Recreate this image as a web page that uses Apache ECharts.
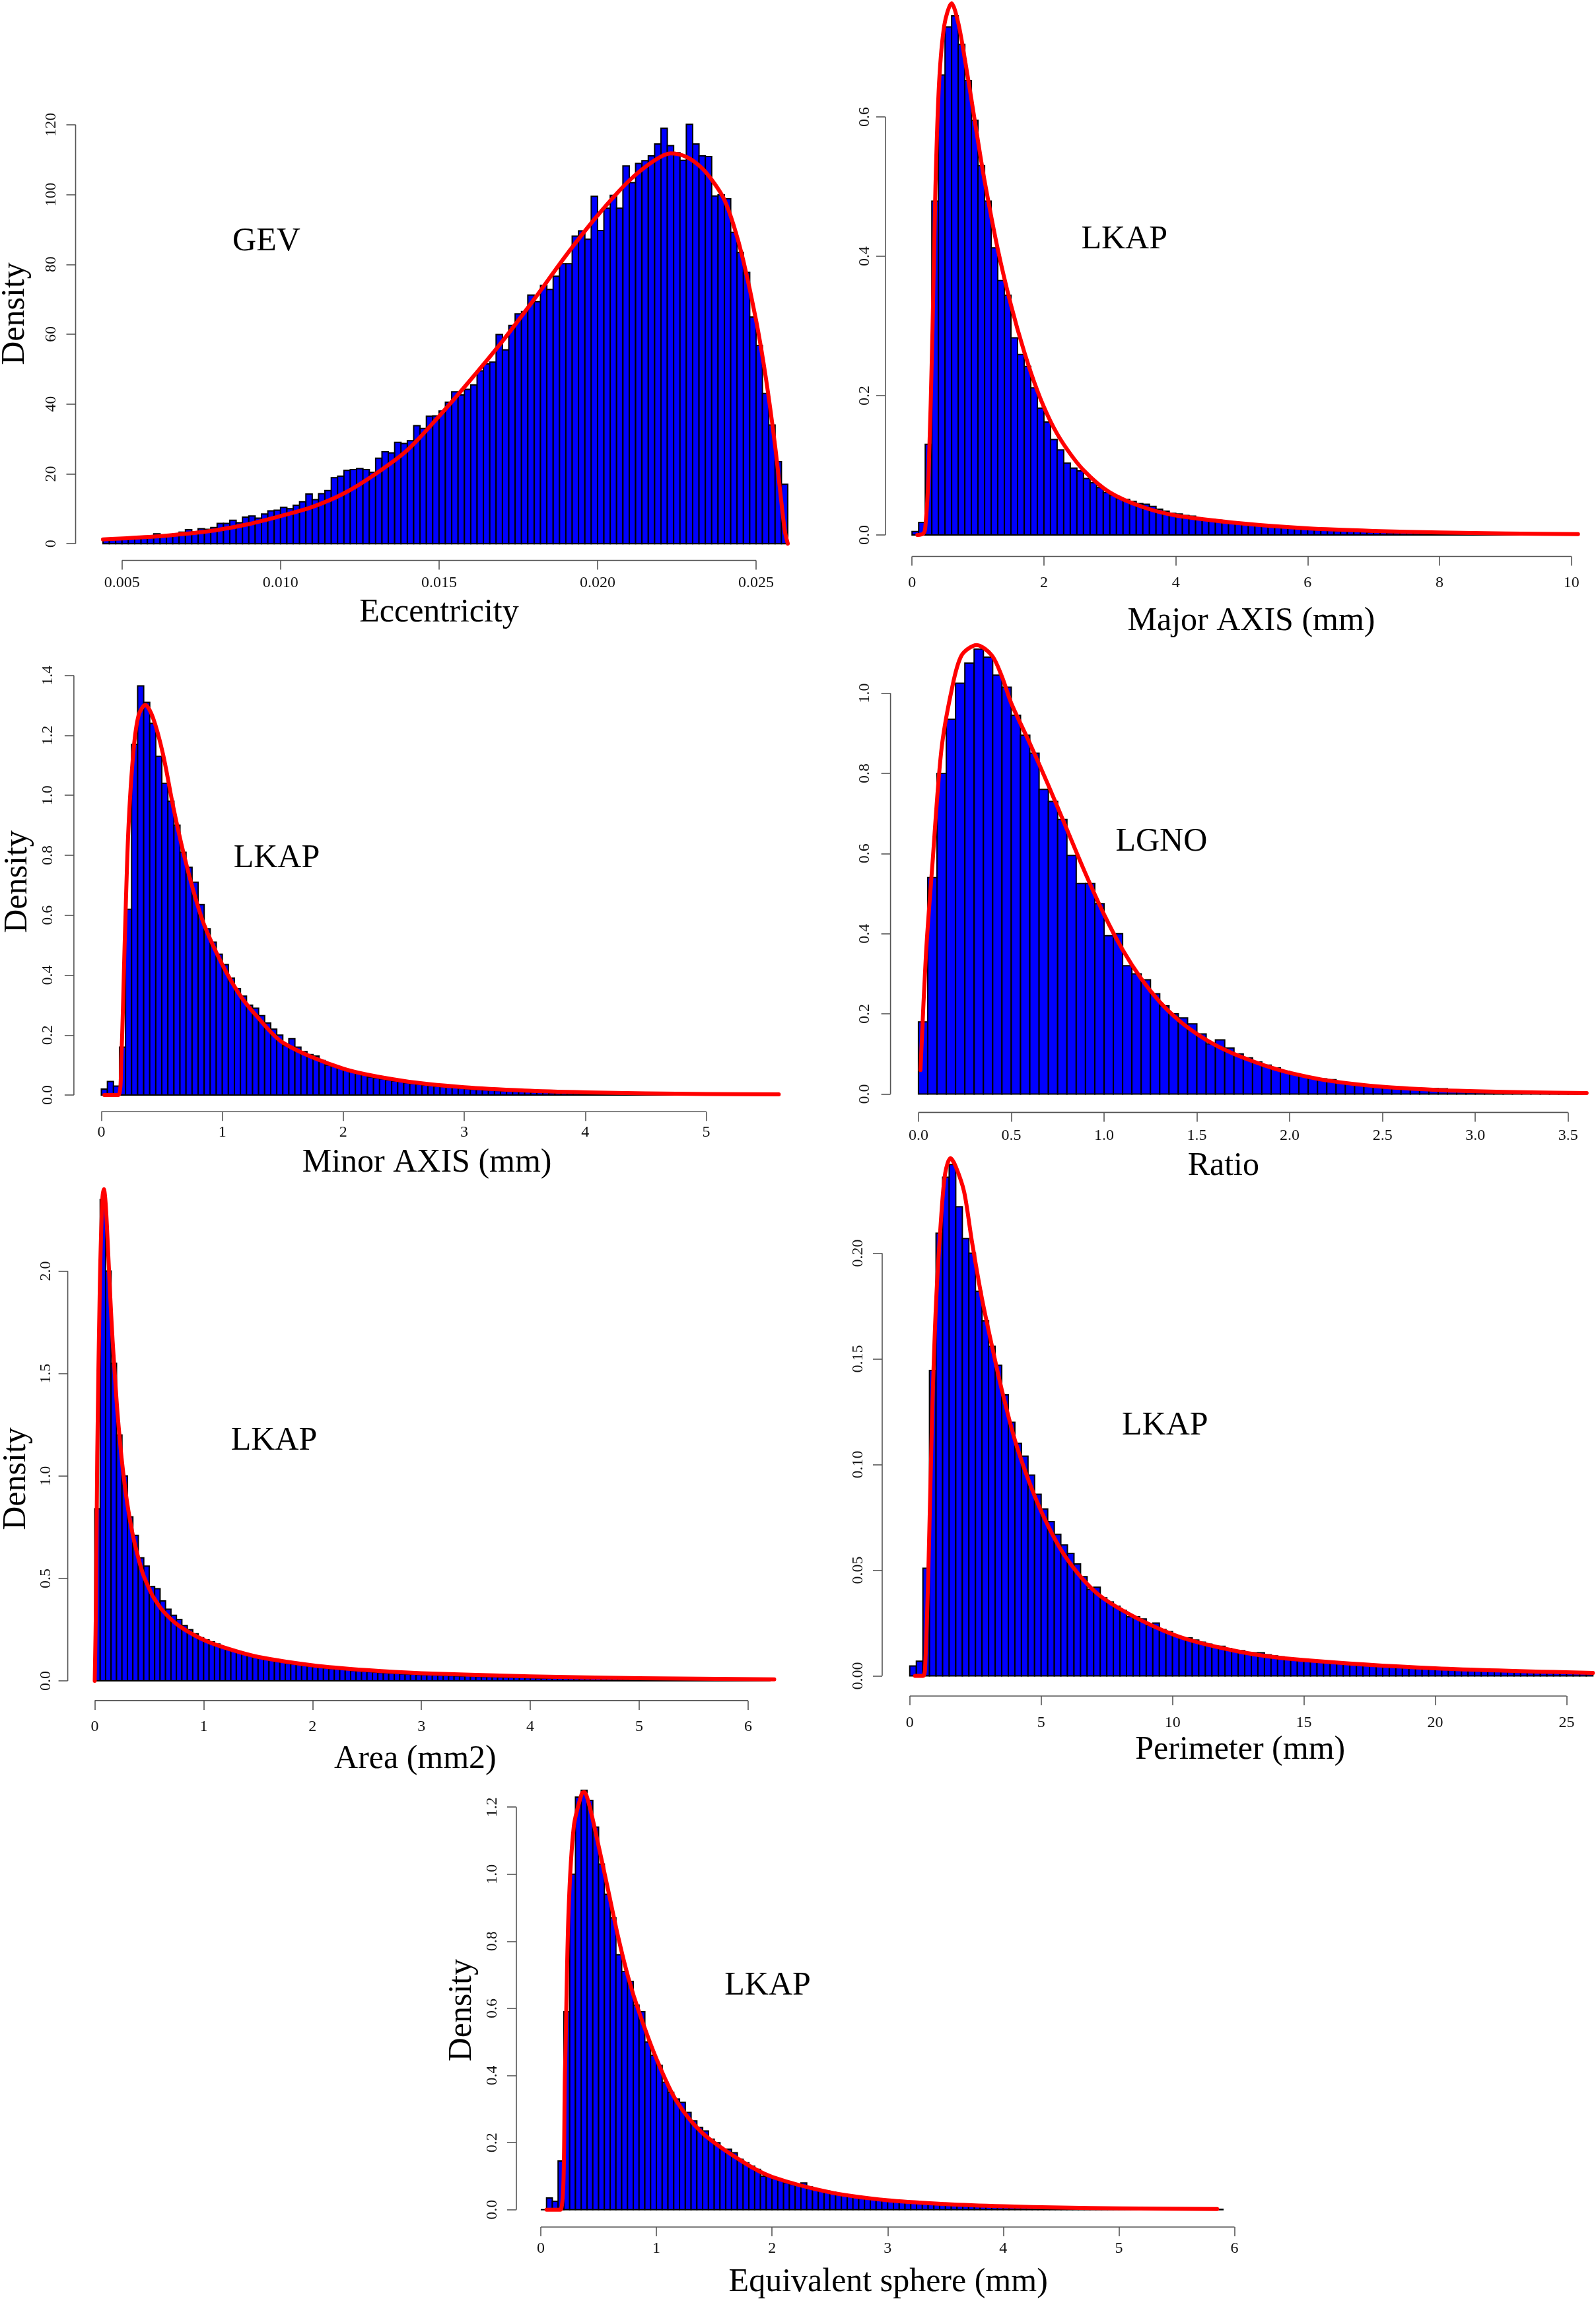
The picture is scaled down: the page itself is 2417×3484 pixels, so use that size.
<!DOCTYPE html>
<html>
<head>
<meta charset="utf-8">
<script src="https://cdn.jsdelivr.net/npm/echarts@6/dist/echarts.min.js"></script>
<style>
html,body{margin:0;padding:0;background:#ffffff;}
#chart{width:2417px;height:3484px;}
</style>
</head>
<body>
<div id="chart"></div>
<script>
// ---------------- DATA ----------------
// Eccentricity (GEV)
const eccBinStart = 0.0044, eccBinWidth = 0.0002;
const eccDensity = [1.4,1.2,1.3,1.5,1.6,1.8,1.9,2.0,2.8,2.4,2.6,2.7,3.3,4.0,3.4,4.3,4.1,4.6,5.8,5.8,6.7,6.0,7.6,7.9,7.3,8.5,9.4,9.6,10.4,10.0,11.0,12.0,14.2,12.6,14.3,15.2,18.9,19.3,21.0,21.2,21.5,21.2,20.4,24.5,26.3,26.0,29.0,28.7,29.5,33.8,33.0,36.5,36.6,38.0,40.5,43.5,42.6,44.2,45.5,49.5,51.5,52.0,59.9,55.5,62.5,65.8,66.5,
  71.2,69.3,74.0,72.8,76.6,80.2,80.2,88.1,89.6,87.2,99.5,89.7,96.1,99.8,96.1,108.2,103.4,108.9,109.7,111.1,114.5,119.0,114.0,112.0,109.8,120.1,114.5,111.1,110.9,99.6,99.9,98.8,89.2,83.4,77.7,64.9,56.8,43.0,34.0,23.5,17.0];
const eccCurve = [[0.0044,1.2],[0.006,2.0],[0.007,2.8],[0.008,3.9],[0.009,5.6],[0.010,7.9],[0.011,10.5],[0.012,14.4],[0.013,20.0],[0.014,26.8],[0.015,36.5],[0.016,47.0],[0.017,58.0],[0.018,70.0],[0.019,82.5],[0.020,94.0],[0.021,104.0],[0.0218,109.8],[0.0223,111.8],[0.0228,110.8],[0.0233,107.5],[0.0237,103.0],[0.0240,98.5],[0.0243,91.0],[0.0246,81.0],[0.0250,64.0],[0.0253,48.0],[0.0256,28.0],[0.0259,4.0],[0.0260,0]];
const eccXTicks = [0.005,0.010,0.015,0.020,0.025];
const eccXLabels = ['0.005','0.010','0.015','0.020','0.025'];
const eccYTicks = [0,20,40,60,80,100,120];
const eccYLabels = ['0','20','40','60','80','100','120'];

// Major AXIS (LKAP)
const majBinStart = 0, majBinWidth = 0.1;
const majDensity = [0.005,0.018,0.13,0.479,0.66,0.729,0.745,0.704,0.652,0.595,0.53,0.479,0.412,0.365,0.344,0.283,0.259,0.242,0.211,0.182,
  0.162,0.137,0.122,0.103,0.096,0.092,0.081,0.075,0.068,0.061,0.057,0.052,0.051,0.048,0.045,0.044,0.041,0.037,0.034,0.031,
  0.030,0.028,0.027,0.024,0.023,0.022,0.021,0.019,0.018,0.017,0.016,0.015,0.014,0.013,0.012,0.012,0.011,0.010,0.010,0.009,
  0.008,0.009,0.007,0.007,0.006,0.006,0.007,0.005,0.005,0.004,0.004,0.004,0.003,0.003,0.003,0.003,0.0025,0.0025,0.002,0.002,
  0.002,0.002,0.0018,0.0022,0.0015,0.0015,0.0013,0.0012,0.0012,0.001,0.001,0.001,0.0009,0.0008,0.0008,0.0007,0.0006,0.0006,0.0005,0.0005,0.0004];
const majCurve = [[0.08,0],[0.17,0.002],[0.2,0.01],[0.25,0.086],[0.31,0.294],[0.355,0.5],[0.41,0.649],[0.49,0.732],[0.6,0.763],[0.7,0.735],[0.8,0.683],[0.9,0.625],[1.0,0.565],[1.1,0.508],[1.3,0.41],[1.5,0.33],[1.7,0.263],[1.9,0.207],[2.1,0.163],[2.3,0.13],[2.6,0.093],[3.0,0.061],[3.5,0.04],[4.0,0.028],[5.0,0.0166],[6.0,0.0095],[7.0,0.0058],[8.0,0.0036],[9.0,0.0022],[10.1,0.0012]];
const majXTicks = [0,2,4,6,8,10];
const majXLabels = ['0','2','4','6','8','10'];
const majYTicks = [0,0.2,0.4,0.6];
const majYLabels = ['0.0','0.2','0.4','0.6'];

// Minor AXIS (LKAP)
const minBinStart = 0, minBinWidth = 0.05;
const minDensity = [0.02,0.045,0.03,0.16,0.62,1.17,1.365,1.31,1.24,1.13,1.04,0.98,0.90,0.81,0.76,0.71,0.635,0.555,0.51,0.47,
  0.435,0.39,0.355,0.33,0.30,0.29,0.265,0.24,0.22,0.20,0.165,0.188,0.16,0.145,0.135,0.13,0.115,0.10,0.095,0.09,
  0.085,0.078,0.072,0.068,0.06,0.057,0.054,0.05,0.047,0.045,0.041,0.038,0.036,0.033,0.031,0.029,0.028,0.028,0.024,0.022,
  0.021,0.019,0.018,0.017,0.016,0.015,0.014,0.013,0.012,0.011,0.012,0.010,0.009,0.009,0.008,0.007,0.007,0.006,0.006,0.006,
  0.005,0.005,0.005,0.004,0.004,0.004,0.003,0.003,0.003,0.003,0.003,0.002,0.002,0.002,0.002,0.002,0.002,0.002,0.001,0.001,
  0.002,0.001,0.001,0.001,0.001,0.001,0.001,0.001,0.001,0.001,0.001,0.001];
const minCurve = [[0.025,0],[0.14,0],[0.165,0.12],[0.195,0.535],[0.224,0.89],[0.266,1.15],[0.308,1.267],[0.363,1.302],[0.426,1.26],[0.51,1.137],[0.595,0.96],[0.68,0.806],[0.764,0.677],[0.848,0.57],[1.0,0.435],[1.143,0.335],[1.27,0.27],[1.5,0.175],[2.0,0.088],[2.5,0.047],[3.0,0.026],[3.5,0.015],[4.0,0.009],[4.5,0.0055],[5.0,0.0035],[5.6,0.002]];
const minXTicks = [0,1,2,3,4,5];
const minXLabels = ['0','1','2','3','4','5'];
const minYTicks = [0,0.2,0.4,0.6,0.8,1.0,1.2,1.4];
const minYLabels = ['0.0','0.2','0.4','0.6','0.8','1.0','1.2','1.4'];

// Ratio (LGNO)
const ratBinStart = 0, ratBinWidth = 0.05;
const ratDensity = [0.18,0.54,0.80,0.935,1.025,1.075,1.11,1.09,1.045,1.015,0.945,0.895,0.85,0.76,0.73,0.685,0.595,0.525,0.525,0.475,
  0.395,0.40,0.32,0.30,0.285,0.25,0.22,0.20,0.19,0.175,0.15,0.125,0.135,0.115,0.10,0.09,0.08,0.072,0.065,0.057,
  0.05,0.045,0.04,0.038,0.036,0.030,0.027,0.024,0.021,0.019,0.018,0.016,0.013,0.011,0.012,0.014,0.013,0.009,0.007,0.006,
  0.005,0.005,0.004,0.004,0.003,0.003,0.004,0.003,0.002,0.002,0.002,0.001];
const ratCurve = [[0.011,0.06],[0.041,0.353],[0.074,0.565],[0.123,0.856],[0.178,1.006],[0.232,1.094],[0.314,1.12],[0.396,1.094],[0.451,1.04],[0.5,0.975],[0.6,0.875],[0.7,0.77],[0.8,0.66],[0.9,0.55],[1.0,0.448],[1.1,0.36],[1.2,0.288],[1.3,0.23],[1.4,0.185],[1.5,0.15],[1.6,0.122],[1.7,0.1],[1.8,0.082],[1.9,0.066],[2.0,0.053],[2.2,0.034],[2.5,0.018],[2.8,0.01],[3.0,0.007],[3.3,0.004],[3.6,0.0025]];
const ratXTicks = [0,0.5,1.0,1.5,2.0,2.5,3.0,3.5];
const ratXLabels = ['0.0','0.5','1.0','1.5','2.0','2.5','3.0','3.5'];
const ratYTicks = [0,0.2,0.4,0.6,0.8,1.0];
const ratYLabels = ['0.0','0.2','0.4','0.6','0.8','1.0'];

// Area (LKAP)
const areaBinStart = 0, areaBinWidth = 0.05;
const areaDensity = [0.84,2.35,2.0,1.55,1.2,1.0,0.8,0.71,0.6,0.56,0.46,0.45,0.39,0.35,0.32,0.30,0.27,0.25,0.23,0.21,
  0.20,0.19,0.18,0.165,0.155,0.145,0.14,0.13,0.125,0.115,0.11,0.105,0.10,0.095,0.09,0.085,0.082,0.08,0.076,0.072,
  0.068,0.066,0.063,0.06,0.062,0.057,0.058,0.05,0.048,0.046,0.044,0.042,0.04,0.039,0.037,0.036,0.034,0.033,0.032,0.031,
  0.030,0.029,0.028,0.027,0.026,0.025,0.024,0.023,0.028,0.022,0.021,0.02,0.02,0.019,0.018,0.018,0.017,0.016,0.016,0.015,
  0.015,0.014,0.014,0.013,0.013,0.012,0.012,0.012,0.011,0.011,0.010,0.010,0.010,0.009,0.009,0.009,0.008,0.008,0.008,0.008,
  0.007,0.007,0.007,0.007,0.006,0.006,0.006,0.006,0.006,0.005,0.005,0.005,0.005,0.005,0.004,0.004,0.004,0.004,0.004,0.004,
  0.003,0.003,0.003,0.003];
const areaCurve = [[0.0,0],[0.012,0.4],[0.023,1.1],[0.047,1.94],[0.07,2.35],[0.084,2.4],[0.1,2.33],[0.117,2.16],[0.14,1.9],[0.164,1.66],[0.19,1.45],[0.21,1.3],[0.25,1.07],[0.3,0.86],[0.35,0.71],[0.4,0.6],[0.444,0.52],[0.5,0.45],[0.537,0.41],[0.63,0.339],[0.77,0.27],[1.0,0.2],[1.24,0.154],[1.5,0.117],[2.0,0.076],[2.5,0.052],[3.0,0.037],[4.0,0.022],[5.0,0.013],[6.24,0.0074]];
const areaXTicks = [0,1,2,3,4,5,6];
const areaXLabels = ['0','1','2','3','4','5','6'];
const areaYTicks = [0,0.5,1.0,1.5,2.0];
const areaYLabels = ['0.0','0.5','1.0','1.5','2.0'];

// Perimeter (LKAP)
const perBinStart = 0, perBinWidth = 0.25;
const perDensity = [0.0047,0.007,0.051,0.1446,0.2095,0.236,0.242,0.222,0.207,0.2,0.182,0.168,0.156,0.147,0.133,0.12,0.11,0.104,0.095,0.086,
  0.079,0.073,0.067,0.062,0.058,0.053,0.047,0.041,0.042,0.037,0.035,0.033,0.031,0.028,0.028,0.027,0.024,0.025,0.022,0.021,
  0.019,0.018,0.018,0.017,0.016,0.015,0.014,0.014,0.013,0.012,0.012,0.011,0.011,0.011,0.01,0.0095,0.009,0.0085,0.008,0.0078,
  0.0075,0.007,0.0068,0.0065,0.0062,0.006,0.0058,0.0055,0.0052,0.005,0.0048,0.0046,0.0044,0.0042,0.004,0.0039,0.0038,0.0036,0.0034,0.0033,
  0.0032,0.0031,0.0034,0.0028,0.0027,0.0026,0.0025,0.0026,0.0023,0.0022,0.0021,0.002,0.0019,0.0018,0.0018,0.0017,0.0016,0.0016,0.0015,0.0014,
  0.0014,0.0013,0.0013,0.0012];
const perCurve = [[0.2,0],[0.5,0],[0.58,0.003],[0.71,0.051],[0.85,0.123],[1.0,0.1765],[1.2,0.218],[1.35,0.238],[1.55,0.245],[1.75,0.241],[2.07,0.229],[2.36,0.206],[2.74,0.179],[3.13,0.156],[3.51,0.135],[4.09,0.108],[5.0,0.078],[6.02,0.0547],[7.37,0.0367],[10,0.0197],[12.5,0.0116],[15,0.0075],[20,0.0036],[26,0.0014]];
const perXTicks = [0,5,10,15,20,25];
const perXLabels = ['0','5','10','15','20','25'];
const perYTicks = [0,0.05,0.10,0.15,0.20];
const perYLabels = ['0.00','0.05','0.10','0.15','0.20'];

// Equivalent sphere (LKAP)
const eqBinStart = 0, eqBinWidth = 0.05;
const eqDensity = [0,0.035,0.025,0.145,0.59,1.0,1.23,1.25,1.22,1.14,1.03,0.94,0.87,0.76,0.71,0.68,0.61,0.59,0.50,0.46,
  0.43,0.38,0.35,0.33,0.32,0.29,0.265,0.245,0.235,0.21,0.20,0.18,0.18,0.17,0.15,0.14,0.13,0.12,0.10,0.10,
  0.095,0.09,0.08,0.075,0.075,0.08,0.068,0.062,0.058,0.055,0.052,0.048,0.045,0.042,0.04,0.037,0.035,0.034,0.033,0.03,
  0.028,0.026,0.024,0.023,0.021,0.02,0.019,0.018,0.017,0.016,0.015,0.014,0.013,0.014,0.012,0.011,0.01,0.01,0.009,0.009,
  0.008,0.008,0.007,0.007,0.006,0.006,0.006,0.005,0.005,0.005,0.004,0.004,0.004,0.004,0.003,0.006,0.003,0.003,0.003,0.002,
  0.002,0.002,0.002,0.002,0.002,0.002,0.001,0.001,0.001,0.001,0.001,0.001,0.001,0.001,0.001,0.001,0.001,0.001];
const eqCurve = [[0.05,0],[0.17,0],[0.21,0.42],[0.24,0.885],[0.286,1.143],[0.355,1.241],[0.375,1.245],[0.42,1.205],[0.49,1.1],[0.58,0.957],[0.67,0.812],[0.76,0.688],[0.855,0.584],[1.0,0.45],[1.17,0.326],[1.4,0.228],[1.76,0.14],[2.0,0.098],[2.5,0.052],[3.0,0.028],[3.5,0.017],[4.0,0.0103],[4.5,0.0065],[5.0,0.004],[5.85,0.002]];
const eqXTicks = [0,1,2,3,4,5,6];
const eqXLabels = ['0','1','2','3','4','5','6'];
const eqYTicks = [0,0.2,0.4,0.6,0.8,1.0,1.2];
const eqYLabels = ['0.0','0.2','0.4','0.6','0.8','1.0','1.2'];

// ---------------- LAYOUT ----------------
const FONT = '"Liberation Serif", "Times New Roman", serif';
const panels = [
  { bins: eccDensity, start: eccBinStart, width: eccBinWidth, curve: eccCurve,
    xTicks: eccXTicks, xLabels: eccXLabels, yTicks: eccYTicks, yLabels: eccYLabels,
    grid: { left: 114.5, top: 163.5, width: 1120, height: 685 },
    xRange: [0.003536, 0.026864], yRange: [-4.8, 124.8], xm: 22, ym: 25,
    title: ['Eccentricity', 665, 928], method: ['GEV', 403.5, 365.6], dens: [23, 475] },
  { bins: majDensity, start: majBinStart, width: majBinWidth, curve: majCurve,
    xTicks: majXTicks, xLabels: majXLabels, yTicks: majYTicks, yLabels: majYLabels,
    grid: { left: 1340.9, top: -35, width: 1089.2, height: 877.5 },
    xRange: [-0.404, 10.504], yRange: [-0.0308, 0.8008], xm: 28, ym: 19,
    title: ['Major AXIS (mm)', 1895, 940.6], method: ['LKAP', 1702.7, 362.5], dens: null },
  { bins: minDensity, start: minBinStart, width: minBinWidth, curve: minCurve,
    xTicks: minXTicks, xLabels: minXLabels, yTicks: minYTicks, yLabels: minYLabels,
    grid: { left: 111.9, top: 1003.2, width: 1108.5, height: 680 },
    xRange: [-0.227, 5.824], yRange: [-0.0555, 1.443], xm: 20, ym: 27,
    title: ['Minor AXIS (mm)', 646.6, 1761], method: ['LKAP', 419, 1300], dens: [27, 1335] },
  { bins: ratDensity, start: ratBinStart, width: ratBinWidth, curve: ratCurve,
    xTicks: ratXTicks, xLabels: ratXLabels, yTicks: ratYTicks, yLabels: ratYLabels,
    grid: { left: 1348.6, top: 930.6, width: 1096.4, height: 753.8 },
    xRange: [-0.1505, 3.75], yRange: [-0.046, 1.196], xm: 23, ym: 27,
    title: ['Ratio', 1852.8, 1766], method: ['LGNO', 1758.9, 1275], dens: null },
  { bins: areaDensity, start: areaBinStart, width: areaBinWidth, curve: areaCurve,
    xTicks: areaXTicks, xLabels: areaXLabels, yTicks: areaYTicks, yLabels: areaYLabels,
    grid: { left: 102.6, top: 1767.6, width: 1104.2, height: 807.3 },
    xRange: [-0.248, 6.448], yRange: [-0.0964, 2.506], xm: 28, ym: 21,
    title: ['Area (mm2)', 628.9, 2663.8], method: ['LKAP', 415, 2181.7], dens: [24.7, 2239] },
  { bins: perDensity, start: perBinStart, width: perBinWidth, curve: perCurve,
    xTicks: perXTicks, xLabels: perXLabels, yTicks: perYTicks, yLabels: perYLabels,
    grid: { left: 1336, top: 1747.2, width: 1128, height: 820.8 },
    xRange: [-1.05, 27.3], yRange: [-0.0095, 0.247], xm: 29, ym: 24,
    title: ['Perimeter (mm)', 1878.2, 2649.5], method: ['LKAP', 1764.3, 2158.7], dens: null },
  { bins: eqDensity, start: eqBinStart, width: eqBinWidth, curve: eqCurve,
    xTicks: eqXTicks, xLabels: eqXLabels, yTicks: eqYTicks, yLabels: eqYLabels,
    grid: { left: 782, top: 2664, width: 1111.4, height: 708 },
    xRange: [-0.211, 6.136], yRange: [-0.0516, 1.342], xm: 21, ym: 24,
    title: ['Equivalent sphere (mm)', 1345.2, 3456], method: ['LKAP', 1162.6, 3006.8], dens: [699.4, 3043.6] }
];

function labelFormatter(ticks, labels) {
  return function (v) {
    for (let i = 0; i < ticks.length; i++) {
      if (Math.abs(ticks[i] - v) < 1e-9 * Math.max(1, Math.abs(v)) + 1e-12) return labels[i];
    }
    return '';
  };
}

function barRenderer(w) {
  return function (params, api) {
    const x0 = api.value(0), h = api.value(1);
    const a = api.coord([x0, h]);
    const b = api.coord([x0 + w, 0]);
    return {
      type: 'rect',
      shape: { x: a[0], y: a[1], width: b[0] - a[0], height: b[1] - a[1] },
      style: { fill: '#0000ff', stroke: '#000000', lineWidth: 2 }
    };
  };
}

function frameRenderer(p) {
  return function (params, api) {
    const xa = api.coord([p.xTicks[0], p.yRange[0]]);
    const xb = api.coord([p.xTicks[p.xTicks.length - 1], p.yRange[0]]);
    const ya = api.coord([p.xRange[0], p.yTicks[0]]);
    const yb = api.coord([p.xRange[0], p.yTicks[p.yTicks.length - 1]]);
    const st = { stroke: '#555555', lineWidth: 1.6 };
    return {
      type: 'group',
      children: [
        { type: 'line', shape: { x1: xa[0], y1: xa[1], x2: xb[0], y2: xb[1] }, style: st },
        { type: 'line', shape: { x1: ya[0], y1: ya[1], x2: yb[0], y2: yb[1] }, style: st }
      ]
    };
  };
}

const grids = [], xAxes = [], yAxes = [], series = [], graphics = [];
panels.forEach(function (p, i) {
  grids.push(Object.assign({ outerBoundsMode: 'none', containLabel: false }, p.grid));
  xAxes.push({
    type: 'value', gridIndex: i, min: p.xRange[0], max: p.xRange[1], position: 'bottom',
    axisLine: { show: false, onZero: false },
    splitLine: { show: false },
    axisTick: { show: true, customValues: p.xTicks, length: 14, inside: false, lineStyle: { color: '#555555', width: 1.6 } },
    axisLabel: { customValues: p.xTicks, formatter: labelFormatter(p.xTicks, p.xLabels), fontFamily: FONT, fontSize: 24, color: '#111111', margin: p.xm }
  });
  yAxes.push({
    type: 'value', gridIndex: i, min: p.yRange[0], max: p.yRange[1], position: 'left',
    axisLine: { show: false, onZero: false },
    splitLine: { show: false },
    axisTick: { show: true, customValues: p.yTicks, length: 14, inside: false, lineStyle: { color: '#555555', width: 1.6 } },
    axisLabel: { customValues: p.yTicks, formatter: labelFormatter(p.yTicks, p.yLabels), fontFamily: FONT, fontSize: 24, color: '#111111', margin: p.ym, rotate: 90 }
  });
  const barData = p.bins.map(function (v, k) { return [+(p.start + k * p.width).toFixed(6), v]; });
  series.push({
    type: 'custom', xAxisIndex: i, yAxisIndex: i, renderItem: barRenderer(p.width),
    data: barData, encode: { x: 0, y: 1 }, clip: true, z: 2, silent: true
  });
  series.push({
    type: 'line', xAxisIndex: i, yAxisIndex: i, data: p.curve, showSymbol: false, symbol: 'none',
    smooth: 0.3, clip: true, z: 3, silent: true,
    lineStyle: { color: '#ff0000', width: 6, cap: 'round', join: 'round' }
  });
  series.push({
    type: 'custom', xAxisIndex: i, yAxisIndex: i, renderItem: frameRenderer(p),
    data: [[p.xRange[0], p.yRange[0]]], encode: { x: 0, y: 1 }, clip: false, z: 4, silent: true
  });
  graphics.push({
    type: 'text', x: p.title[1], y: p.title[2],
    style: { text: p.title[0], font: '50px ' + FONT, fontSize: 50, fontFamily: FONT, fill: '#000000', align: 'center', verticalAlign: 'middle', textAlign: 'center', textVerticalAlign: 'middle' }
  });
  graphics.push({
    type: 'text', x: p.method[1], y: p.method[2],
    style: { text: p.method[0], font: '50px ' + FONT, fontSize: 50, fontFamily: FONT, fill: '#000000', align: 'center', verticalAlign: 'middle', textAlign: 'center', textVerticalAlign: 'middle' }
  });
  if (p.dens) {
    graphics.push({
      type: 'text', x: p.dens[0], y: p.dens[1], rotation: Math.PI / 2,
      style: { text: 'Density', font: '50px ' + FONT, fontSize: 50, fontFamily: FONT, fill: '#000000', align: 'center', verticalAlign: 'middle', textAlign: 'center', textVerticalAlign: 'middle' }
    });
  }
});

const chart = echarts.init(document.getElementById('chart'), null, { renderer: 'canvas', width: 2417, height: 3484 });
chart.setOption({
  backgroundColor: '#ffffff',
  animation: false,
  grid: grids,
  xAxis: xAxes,
  yAxis: yAxes,
  series: series,
  graphic: { elements: graphics }
});
</script>
</body>
</html>
